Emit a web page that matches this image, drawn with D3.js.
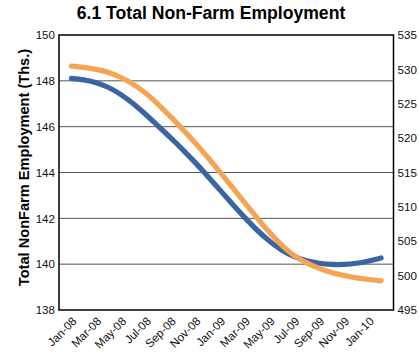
<!DOCTYPE html>
<html>
<head>
<meta charset="utf-8">
<script src="https://cdn.jsdelivr.net/npm/d3@7"></script>
<style>
  html, body { margin: 0; padding: 0; background: #fff; }
  svg { display: block; font-family: "Liberation Sans", Arial, sans-serif; }
</style>
</head>
<body>
<svg id="chart" width="419" height="356"></svg>
<script>
// Monthly series, Jan-08 through Feb-10
const months = ["Jan-08","Feb-08","Mar-08","Apr-08","May-08","Jun-08","Jul-08","Aug-08","Sep-08","Oct-08","Nov-08","Dec-08",
                "Jan-09","Feb-09","Mar-09","Apr-09","May-09","Jun-09","Jul-09","Aug-09","Sep-09","Oct-09","Nov-09","Dec-09",
                "Jan-10","Feb-10"];
// Left axis series (thousands)
const leftSeries = [148.11,148.04,147.92,147.71,147.40,147.00,146.53,146.03,145.52,144.99,144.43,143.84,
                    143.23,142.62,142.03,141.48,141.00,140.61,140.33,140.15,140.04,139.99,139.99,140.04,
                    140.14,140.27];
// Right axis series
const rightSeries = [530.48,530.30,530.00,529.54,528.82,527.82,526.52,524.92,523.12,521.24,519.29,517.22,
                     515.05,512.82,510.57,508.37,506.27,504.40,502.90,501.85,501.05,500.45,500.02,499.68,
                     499.44,499.24];
const leftTicks = [138,140,142,144,146,148,150];
const rightTicks = [495,500,505,510,515,520,525,530,535];
const xLabels = ["Jan-08","Mar-08","May-08","Jul-08","Sep-08","Nov-08","Jan-09","Mar-09","May-09","Jul-09","Sep-09","Nov-09","Jan-10"];

const svg = d3.select("#chart");
const plot = { left: 59, right: 393.5, top: 35, bottom: 310 };

const x = d3.scaleLinear().domain([-1, months.length]).range([plot.left, plot.right]);
const yL = d3.scaleLinear().domain([138, 150]).range([plot.bottom, plot.top]);
const yR = d3.scaleLinear().domain([495, 535]).range([plot.bottom, plot.top]);

// Title
svg.append("text")
  .attr("x", 211).attr("y", 19)
  .attr("text-anchor", "middle")
  .attr("font-size", "17.6px").attr("font-weight", "bold").attr("fill", "#000")
  .text("6.1 Total Non-Farm Employment");

// Horizontal gridlines from the left axis
svg.append("g").selectAll("line")
  .data(leftTicks.filter(d => d > 138 && d < 150))
  .join("line")
  .attr("x1", plot.left).attr("x2", plot.right)
  .attr("y1", d => yL(d)).attr("y2", d => yL(d))
  .attr("stroke", "#555").attr("stroke-width", 1);

// Series lines
const lineL = d3.line().x((d, i) => x(i)).y(d => yL(d)).curve(d3.curveCatmullRom.alpha(0.5));
const lineR = d3.line().x((d, i) => x(i)).y(d => yR(d)).curve(d3.curveCatmullRom.alpha(0.5));

svg.append("path").datum(leftSeries)
  .attr("d", lineL).attr("fill", "none")
  .attr("stroke", "#3b65a2").attr("stroke-width", 5.2).attr("stroke-linecap", "round");
svg.append("path").datum(rightSeries)
  .attr("d", lineR).attr("fill", "none")
  .attr("stroke", "#f3a553").attr("stroke-width", 5.2).attr("stroke-linecap", "round");

// Plot border
svg.append("rect")
  .attr("x", plot.left).attr("y", plot.top)
  .attr("width", plot.right - plot.left).attr("height", plot.bottom - plot.top)
  .attr("fill", "none").attr("stroke", "#000").attr("stroke-width", 1.5);

// Left axis
const axL = svg.append("g").attr("transform", `translate(${plot.left},0)`)
  .call(d3.axisLeft(yL).tickValues(leftTicks).tickFormat(d3.format("d")).tickSize(0).tickPadding(4));
axL.select(".domain").remove();
axL.selectAll("text").attr("font-size", "11.6px").attr("fill", "#111")
  .attr("font-family", "Liberation Sans, Arial, sans-serif");

// Right axis
const axR = svg.append("g").attr("transform", `translate(${plot.right},0)`)
  .call(d3.axisRight(yR).tickValues(rightTicks).tickFormat(d3.format("d")).tickSize(0).tickPadding(4));
axR.select(".domain").remove();
axR.selectAll("text").attr("font-size", "11.6px").attr("fill", "#111")
  .attr("font-family", "Liberation Sans, Arial, sans-serif");

// Category labels, rotated
svg.append("g").selectAll("text")
  .data(xLabels)
  .join("text")
  .attr("transform", d => `translate(${x(months.indexOf(d)) + 6},${plot.bottom + 12}) rotate(-45)`)
  .attr("text-anchor", "end")
  .attr("font-size", "11.6px").attr("fill", "#111")
  .text(d => d);

// Left axis title
svg.append("text")
  .attr("transform", `translate(28.5,167.5) rotate(-90)`)
  .attr("text-anchor", "middle")
  .attr("font-size", "14.6px").attr("font-weight", "bold").attr("fill", "#000")
  .text("Total NonFarm Employment (Ths.)");
</script>
</body>
</html>
